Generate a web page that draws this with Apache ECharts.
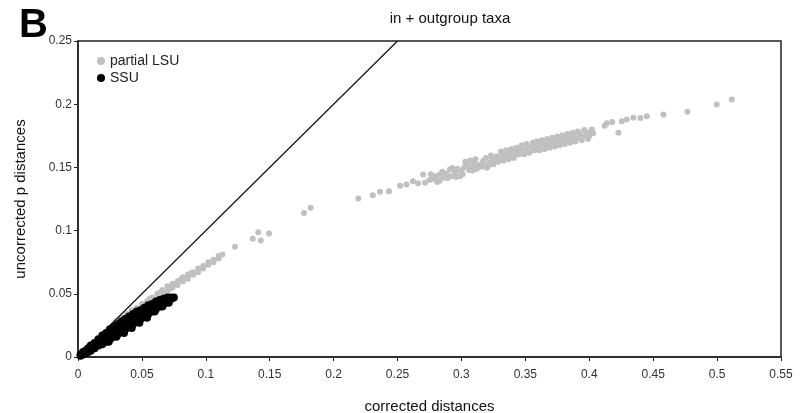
<!DOCTYPE html>
<html>
<head>
<meta charset="utf-8">
<script src="https://cdn.jsdelivr.net/npm/echarts@6/dist/echarts.min.js"></script>
<style>
  html, body { margin: 0; padding: 0; background: #fff; }
  #chart { width: 801px; height: 413px; }
</style>
</head>
<body>
<div id="chart"></div>
<script>
// x = corrected distance, y = uncorrected p distance
const xTicks = [0, 0.05, 0.1, 0.15, 0.2, 0.25, 0.3, 0.35, 0.4, 0.45, 0.5, 0.55];
const yTicks = [0, 0.05, 0.1, 0.15, 0.2, 0.25];

const diagonal = [[0, 0], [0.25, 0.25]];

const lsuPoints = [
    // dense band near the origin
    [0.005, 0.005], [0.010, 0.009], [0.015, 0.013], [0.020, 0.018], [0.025, 0.022],
    [0.030, 0.026], [0.030, 0.028], [0.034, 0.029], [0.034, 0.031], [0.038, 0.031],
    [0.038, 0.034], [0.042, 0.034], [0.042, 0.037], [0.046, 0.036], [0.046, 0.039],
    [0.050, 0.039], [0.050, 0.042], [0.054, 0.042], [0.054, 0.044], [0.058, 0.044],
    [0.058, 0.047], [0.062, 0.047], [0.062, 0.050], [0.066, 0.050], [0.066, 0.053],
    [0.070, 0.052], [0.070, 0.056], [0.074, 0.055], [0.074, 0.058], [0.078, 0.057],
    [0.078, 0.060], [0.082, 0.060], [0.082, 0.063], [0.086, 0.062], [0.086, 0.065],
    [0.090, 0.065], [0.090, 0.067], [0.094, 0.067], [0.094, 0.070], [0.098, 0.070],
    [0.098, 0.072], [0.102, 0.073], [0.102, 0.075], [0.106, 0.075], [0.106, 0.077],
    [0.110, 0.078], [0.110, 0.080], [0.113, 0.081],
    [0.056, 0.046], [0.064, 0.051], [0.072, 0.054], [0.080, 0.061], [0.088, 0.066],
    // sparse middle
    [0.1228, 0.0872], [0.1367, 0.0935], [0.141, 0.0987], [0.143, 0.0922], [0.1495, 0.0977],
    [0.1768, 0.114], [0.182, 0.118], [0.2193, 0.1254], [0.2306, 0.128], [0.2363, 0.1307],
    [0.2433, 0.1312],
    // main cluster
    [0.252, 0.1355], [0.257, 0.1365], [0.262, 0.139], [0.266, 0.1375], [0.270, 0.1444],
    [0.2715, 0.1378], [0.275, 0.140], [0.278, 0.141], [0.280, 0.143], [0.283, 0.1395],
    [0.283, 0.1444], [0.286, 0.142], [0.288, 0.145], [0.291, 0.1483], [0.292, 0.143],
    [0.295, 0.146], [0.297, 0.149], [0.299, 0.143], [0.300, 0.147], [0.302, 0.150],
    [0.304, 0.152], [0.306, 0.148], [0.308, 0.151], [0.310, 0.153], [0.312, 0.149],
    [0.314, 0.152], [0.317, 0.155], [0.318, 0.151], [0.320, 0.1497], [0.322, 0.154],
    [0.324, 0.157], [0.326, 0.155], [0.3276, 0.1589], [0.330, 0.157], [0.332, 0.160],
    [0.334, 0.158], [0.336, 0.161], [0.338, 0.159], [0.340, 0.162], [0.342, 0.160],
    [0.344, 0.163], [0.346, 0.165], [0.348, 0.162], [0.350, 0.164], [0.352, 0.166],
    [0.354, 0.163], [0.356, 0.1697], [0.356, 0.167], [0.358, 0.165], [0.360, 0.168],
    [0.362, 0.166], [0.364, 0.169], [0.366, 0.167], [0.368, 0.170], [0.370, 0.168],
    [0.372, 0.171], [0.374, 0.169], [0.376, 0.172], [0.378, 0.170], [0.380, 0.173],
    [0.382, 0.171], [0.384, 0.174], [0.386, 0.172], [0.388, 0.175], [0.390, 0.173],
    [0.393, 0.176], [0.395, 0.174], [0.398, 0.177], [0.400, 0.175], [0.402, 0.180],
    [0.403, 0.177],
    [0.276, 0.1445], [0.281, 0.1385], [0.285, 0.1465], [0.289, 0.1415], [0.293, 0.1495],
    [0.296, 0.1425], [0.301, 0.1445], [0.303, 0.1545], [0.307, 0.1555], [0.309, 0.1475],
    [0.311, 0.1565], [0.313, 0.1505], [0.316, 0.1505], [0.319, 0.1575], [0.321, 0.1515],
    [0.323, 0.1595], [0.325, 0.1525], [0.329, 0.1545], [0.331, 0.1625], [0.333, 0.1555],
    [0.335, 0.1635], [0.337, 0.1565], [0.339, 0.1645], [0.341, 0.1575], [0.343, 0.1655],
    [0.345, 0.1605], [0.347, 0.1675], [0.349, 0.1605], [0.351, 0.1685], [0.353, 0.1615],
    [0.357, 0.1635], [0.359, 0.1705], [0.361, 0.1635], [0.363, 0.1715], [0.365, 0.1645],
    [0.367, 0.1725], [0.369, 0.1655], [0.371, 0.1735], [0.373, 0.1665], [0.375, 0.1745],
    [0.377, 0.1675], [0.379, 0.1755], [0.381, 0.1685], [0.383, 0.1765], [0.385, 0.1695],
    [0.387, 0.1775], [0.389, 0.1705], [0.391, 0.1785], [0.394, 0.1715], [0.396, 0.1795],
    [0.399, 0.1725], [0.401, 0.1785],
    // upper tail
    [0.412, 0.183], [0.4137, 0.185], [0.418, 0.186], [0.4228, 0.1774], [0.4254, 0.1866],
    [0.4293, 0.1879], [0.4345, 0.1892], [0.440, 0.189], [0.445, 0.1905], [0.458, 0.1918],
    [0.4768, 0.194], [0.4997, 0.1998], [0.5115, 0.2037]
];

const ssuPoints = [
    [0.002, 0.001], [0.002, 0.002],
    [0.004, 0.002], [0.004, 0.003], [0.004, 0.004],
    [0.006, 0.003], [0.006, 0.004], [0.006, 0.005],
    [0.008, 0.004], [0.008, 0.006], [0.008, 0.007],
    [0.010, 0.005], [0.010, 0.007], [0.010, 0.009],
    [0.013, 0.007], [0.013, 0.009], [0.013, 0.011],
    [0.016, 0.009], [0.016, 0.011], [0.016, 0.013], [0.016, 0.014],
    [0.019, 0.010], [0.019, 0.013], [0.019, 0.015], [0.019, 0.017],
    [0.022, 0.012], [0.022, 0.015], [0.022, 0.017], [0.022, 0.019],
    [0.025, 0.014], [0.025, 0.017], [0.025, 0.019], [0.025, 0.022],
    [0.028, 0.016], [0.028, 0.019], [0.028, 0.021], [0.028, 0.024],
    [0.031, 0.018], [0.031, 0.021], [0.031, 0.023], [0.031, 0.026],
    [0.034, 0.020], [0.034, 0.022], [0.034, 0.025], [0.034, 0.028],
    [0.037, 0.022], [0.037, 0.024], [0.037, 0.027], [0.037, 0.030],
    [0.040, 0.024], [0.040, 0.026], [0.040, 0.029], [0.040, 0.032],
    [0.043, 0.026], [0.043, 0.028], [0.043, 0.031], [0.043, 0.034],
    [0.046, 0.028], [0.046, 0.030], [0.046, 0.033], [0.046, 0.036],
    [0.049, 0.030], [0.049, 0.032], [0.049, 0.035], [0.049, 0.037],
    [0.052, 0.032], [0.052, 0.034], [0.052, 0.037], [0.052, 0.039],
    [0.055, 0.034], [0.055, 0.036], [0.055, 0.038], [0.055, 0.041],
    [0.058, 0.036], [0.058, 0.038], [0.058, 0.040], [0.058, 0.042],
    [0.061, 0.038], [0.061, 0.040], [0.061, 0.042], [0.061, 0.044],
    [0.064, 0.040], [0.064, 0.042], [0.064, 0.044], [0.064, 0.045],
    [0.067, 0.042], [0.067, 0.044], [0.067, 0.046],
    [0.070, 0.044], [0.070, 0.046], [0.070, 0.047],
    [0.073, 0.046], [0.073, 0.047],
    [0.075, 0.047],
    // lower edge of the band
    [0.024, 0.012], [0.030, 0.016], [0.036, 0.019], [0.042, 0.023], [0.048, 0.027],
    [0.054, 0.031], [0.060, 0.036], [0.066, 0.040], [0.071, 0.043]
];

const FONT = 'Liberation Sans, Arial, sans-serif';
const chart = echarts.init(document.getElementById('chart'), null, { renderer: 'canvas' });

chart.setOption({
    animation: false,
    backgroundColor: '#fff',
    title: [
        { text: 'in + outgroup taxa', left: 445, top: 6, textAlign: 'center',
          textStyle: { fontFamily: FONT, fontSize: 15, fontWeight: 'normal', color: '#111' } },
        { text: 'B', left: 14, top: 1,
          textStyle: { fontFamily: FONT, fontSize: 40, fontWeight: 'bold', color: '#000' } }
    ],
    legend: {
        left: 92, top: 49, orient: 'vertical', itemGap: 3,
        itemWidth: 8, itemHeight: 8,
        textStyle: { fontFamily: FONT, fontSize: 14, color: '#222' },
        data: [
            { name: 'partial LSU', icon: 'circle', itemStyle: { color: '#c0c0c0', opacity: 1 } },
            { name: 'SSU', icon: 'circle', itemStyle: { color: '#000', opacity: 1 } }
        ]
    },
    grid: {
        left: 78, right: 20, top: 41, bottom: 56,
        outerBoundsMode: 'none',
        show: true, borderColor: '#222', borderWidth: 1.5
    },
    xAxis: {
        type: 'value', min: 0, max: 0.55, interval: 0.05,
        name: 'corrected distances', nameLocation: 'middle', nameGap: 42,
        nameTextStyle: { fontFamily: FONT, fontSize: 15, color: '#111' },
        axisLine: { lineStyle: { color: '#222', width: 1.5 } },
        axisTick: { show: true, length: 4, lineStyle: { color: '#222' } },
        axisLabel: { fontFamily: FONT, fontSize: 12, color: '#333', margin: 12,
                     formatter: v => xTicks.find(t => Math.abs(t - v) < 1e-9)?.toString() ?? '' },
        splitLine: { show: false }
    },
    yAxis: {
        type: 'value', min: 0, max: 0.25, interval: 0.05,
        name: 'uncorrected p distances', nameLocation: 'middle', nameGap: 50,
        nameTextStyle: { fontFamily: FONT, fontSize: 15, color: '#111' },
        axisLine: { lineStyle: { color: '#222', width: 1.5 } },
        axisTick: { show: true, length: 4, lineStyle: { color: '#222' } },
        axisLabel: { fontFamily: FONT, fontSize: 12, color: '#333', margin: 6,
                     formatter: v => yTicks.find(t => Math.abs(t - v) < 1e-9)?.toString() ?? '' },
        splitLine: { show: false }
    },
    series: [
        {
            name: 'partial LSU', type: 'scatter', data: lsuPoints,
            symbolSize: 6, itemStyle: { color: '#c0c0c0', opacity: 1 }, z: 2
        },
        {
            name: 'SSU', type: 'scatter', data: ssuPoints,
            symbolSize: 8, itemStyle: { color: '#000', opacity: 1 }, z: 3
        },
        {
            name: 'y = x', type: 'line', data: diagonal, showSymbol: false, symbol: 'none',
            lineStyle: { color: '#111', width: 1.2 }, z: 4, silent: true
        }
    ]
});
</script>
</body>
</html>
